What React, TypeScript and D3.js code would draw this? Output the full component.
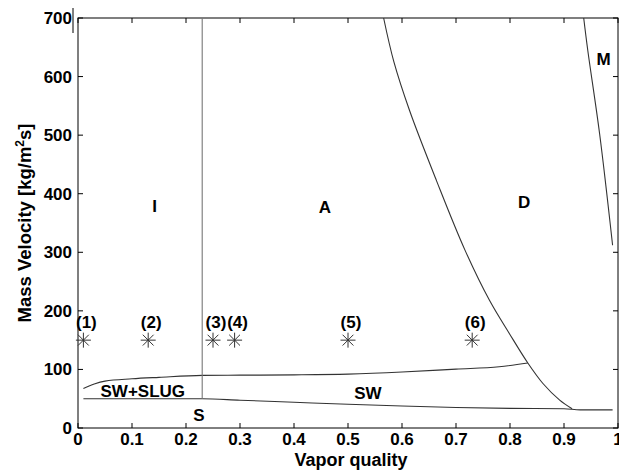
import React from "react";
import * as d3 from "d3";

// ---- data ----
const xTicks = [0, 0.1, 0.2, 0.3, 0.4, 0.5, 0.6, 0.7, 0.8, 0.9, 1];
const xTickLabels = ["0", "0.1", "0.2", "0.3", "0.4", "0.5", "0.6", "0.7", "0.8", "0.9", "1"];
const yTicks = [0, 100, 200, 300, 400, 500, 600, 700];
const yTickLabels = ["0", "100", "200", "300", "400", "500", "600", "700"];

// upper boundary of stratified-wavy (SW+SLUG / SW) regions
const swTopX = [0.01, 0.03, 0.05, 0.1, 0.15, 0.23, 0.3, 0.4, 0.5, 0.6, 0.7, 0.78, 0.833];
const swTopG = [67.6, 75, 80, 84, 86.5, 89.8, 90.2, 90.7, 92, 95.5, 100.5, 104.5, 111];

// stratified boundary (S)
const sBoundX = [0.01, 0.23, 0.3, 0.4, 0.5, 0.6, 0.7, 0.8, 0.9, 0.93, 0.99];
const sBoundG = [50, 50, 47.5, 44, 40.5, 37.5, 35, 33.5, 32.8, 31, 31];

// annular / dryout boundary
const dryX = [0.566, 0.585, 0.614, 0.664, 0.716, 0.762, 0.799, 0.833, 0.861, 0.892, 0.915];
const dryG = [700, 625, 542, 422, 305, 218, 161, 111, 76, 47.7, 33];

// dryout / mist boundary
const mistX = [0.9365, 0.944, 0.966, 0.99];
const mistG = [700, 645, 502, 312];

// intermittent / annular transition
const transX = [0.23, 0.23];
const transG = [50, 700];

// test points
const pointX = [0.01, 0.13, 0.25, 0.29, 0.5, 0.73];
const pointG = [150, 150, 150, 150, 150, 150];
const pointLabels = ["(1)", "(2)", "(3)", "(4)", "(5)", "(6)"];

// region labels
const regionNames = ["I", "A", "D", "M", "SW+SLUG", "S", "SW"];
const regionX = [0.142, 0.457, 0.826, 0.9735, 0.12, 0.224, 0.537];
const regionG = [380, 377, 386, 630, 63.5, 22, 60];

// ---- layout ----
const W = 619;
const H = 472;
const M = { left: 78, right: 1, top: 18, bottom: 44 };
const FONT = "'Liberation Sans', Arial, sans-serif";
const LINE = "#333";

export default function App() {
  const x = d3.scaleLinear().domain([0, 1]).range([M.left, W - M.right]);
  const y = d3.scaleLinear().domain([0, 700]).range([H - M.bottom, M.top]);
  const line = d3
    .line<[number, number]>()
    .x((d) => x(d[0]))
    .y((d) => y(d[1]))
    .curve(d3.curveMonotoneX);
  const smooth = d3
    .line<[number, number]>()
    .x((d) => x(d[0]))
    .y((d) => y(d[1]))
    .curve(d3.curveCatmullRom.alpha(0.5));
  const straight = d3
    .line<[number, number]>()
    .x((d) => x(d[0]))
    .y((d) => y(d[1]));
  const zip = (a: number[], b: number[]) => a.map((v, i) => [v, b[i]] as [number, number]);

  const x0 = x(0), x1 = x(1), y0 = y(0), y1 = y(700);
  const tl = 5;
  const r = 7.5;
  const rd = r * 0.72;
  const fs = 17;

  return (
    <svg
      width={W}
      height={H}
      style={{ position: "fixed", left: 0, top: 0, background: "#fff" }}
      fontFamily={FONT}
      fontWeight="bold"
    >
      <rect width={W} height={H} fill="#fff" />
      {/* frame */}
      <rect x={x0} y={y1} width={x1 - x0} height={y0 - y1} fill="none" stroke="#000" strokeWidth={1} />
      <line x1={x0 - 5} x2={x0 - 5} y1={y1 - 10} y2={y1 + 15} stroke="#000" strokeWidth={1} />

      {/* ticks */}
      {xTicks.map((t, i) => (
        <g key={"xt" + i}>
          <line x1={x(t)} x2={x(t)} y1={y0} y2={y0 - tl} stroke="#000" />
          <line x1={x(t)} x2={x(t)} y1={y1} y2={y1 + tl} stroke="#000" />
          <text x={x(t)} y={y0 + 17} textAnchor="middle" fontSize={fs} fill="#000">
            {xTickLabels[i]}
          </text>
        </g>
      ))}
      {yTicks.map((t, i) => (
        <g key={"yt" + i}>
          <line x1={x0} x2={x0 + tl} y1={y(t)} y2={y(t)} stroke="#000" />
          <line x1={x1} x2={x1 - tl} y1={y(t)} y2={y(t)} stroke="#000" />
          <text x={x0 - 6} y={y(t) + 6} textAnchor="end" fontSize={fs} fill="#000">
            {yTickLabels[i]}
          </text>
        </g>
      ))}

      {/* axis titles */}
      <text x={(x0 + x1) / 2 + 3} y={H - 6} textAnchor="middle" fontSize={18} fill="#000">
        Vapor quality
      </text>
      <text
        transform={`translate(31,${(y0 + y1) / 2}) rotate(-90)`}
        textAnchor="middle"
        fontSize={18.5}
        fill="#000"
      >
        Mass Velocity [kg/m
        <tspan dy={-7} fontSize={12}>2</tspan>
        <tspan dy={7}>s]</tspan>
      </text>

      {/* boundaries */}
      <path d={line(zip(swTopX, swTopG)) || ""} fill="none" stroke={LINE} strokeWidth={1.1} />
      <path d={line(zip(sBoundX, sBoundG)) || ""} fill="none" stroke={LINE} strokeWidth={1.1} />
      <path d={smooth(zip(dryX, dryG)) || ""} fill="none" stroke={LINE} strokeWidth={1.1} />
      <path d={smooth(zip(mistX, mistG)) || ""} fill="none" stroke={LINE} strokeWidth={1.1} />
      <path d={straight(zip(transX, transG)) || ""} fill="none" stroke="#777" strokeWidth={1.1} />

      {/* test points */}
      {pointX.map((px, i) => {
        const cx = x(px), cy = y(pointG[i]);
        return (
          <g key={"p" + i} stroke="#333" strokeWidth={1}>
            <line x1={cx - r} x2={cx + r} y1={cy} y2={cy} />
            <line x1={cx} x2={cx} y1={cy - r} y2={cy + r} />
            <line x1={cx - rd} x2={cx + rd} y1={cy - rd} y2={cy + rd} />
            <line x1={cx - rd} x2={cx + rd} y1={cy + rd} y2={cy - rd} />
            <text x={cx + 3} y={cy - 12} textAnchor="middle" fontSize={fs} fill="#000" stroke="none">
              {pointLabels[i]}
            </text>
          </g>
        );
      })}

      {/* region labels */}
      {regionNames.map((n, i) => (
        <text
          key={"r" + i}
          x={x(regionX[i])}
          y={y(regionG[i])}
          dy="0.36em"
          textAnchor="middle"
          fontSize={fs}
          fill="#000"
        >
          {n}
        </text>
      ))}
    </svg>
  );
}
